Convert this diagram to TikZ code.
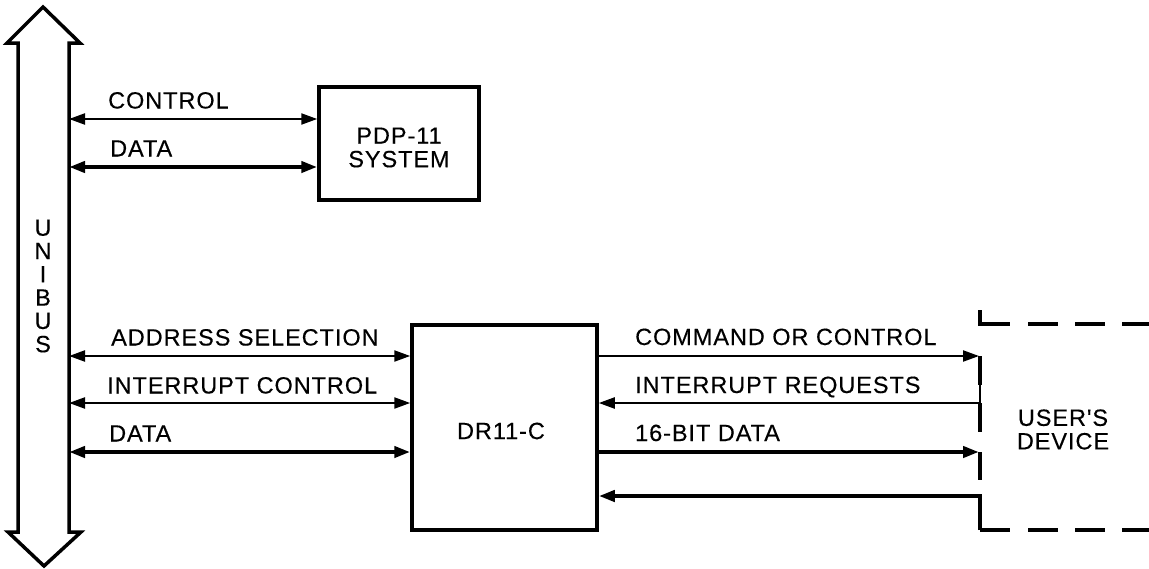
\documentclass[tikz,border=0pt]{standalone}
\usepackage{fontspec}
\newfontfamily\lbl{Liberation Sans}[LetterSpace=4, FakeBold=0.3]
\usetikzlibrary{arrows.meta}
\tikzset{
  sig/.style={line width=2.2pt},
  bus/.style={line width=4pt},
  blk/.style={draw, line width=3.5pt, inner sep=0pt},
  txt/.style={inner sep=0pt, font=\lbl\fontsize{23.5}{23.5}\selectfont},
  ctxt/.style={txt, align=center},
  tri/.style={arrows={Triangle[length=16pt,width=11pt]-Triangle[length=16pt,width=11pt]}},
  trie/.style={arrows={-Triangle[length=16pt,width=11pt]}},
  dsh/.style={line width=3.5pt, dash pattern=on 30pt off 17pt},
}
\begin{document}
\begin{tikzpicture}[x=1pt,y=-1pt]
\useasboundingbox (0,0) rectangle (1149,568);
% UNIBUS double arrow
\draw[line width=3.5pt, line join=miter] (43,7) -- (80,43) -- (69,43) -- (69,532) -- (81,532) -- (44,566)
  -- (8,532) -- (18,532) -- (18,43) -- (7,43) -- cycle;
\node[ctxt, font=\lbl\fontsize{23.5}{23.3}\selectfont] (unibus) at (43,286) {U\\N\\I\\B\\U\\S};
% unibus tap points
\coordinate (ub1) at (69,119);
\coordinate (ub2) at (69,167);
\coordinate (ub3) at (69,356);
\coordinate (ub4) at (69,403);
\coordinate (ub5) at (69,452);
% blocks
\node[blk, minimum width=160pt, minimum height=113pt] (pdp) at (399,143.5) {};
\node[ctxt] (pdptxt) at (399,147.5) {PDP-11\\SYSTEM};
\node[blk, minimum width=185pt, minimum height=205pt] (dr) at (504.5,427.5) {};
\node[txt] (drtxt) at (501,431) {DR11-C};
% user's device edge points
\coordinate (ud1) at (980,356);
\coordinate (ud2) at (980,403);
\coordinate (ud3) at (980,452);
\coordinate (ud4) at (980,496);
\coordinate (udtop) at (980,324);
\coordinate (udbot) at (980,530);
\node[ctxt] (user) at (1063,429.5) {USER'S\\DEVICE};
% top connectors
\draw[sig, tri] (ub1) -- (pdp.west |- ub1);
\draw[bus, tri] (ub2) -- (pdp.west |- ub2);
\node[txt, anchor=base west] (l1) at (108,108.5) {CONTROL};
\node[txt, anchor=base west] (l2) at (110,156.5) {DATA};
% left connectors to DR11-C
\draw[sig, tri] (ub3) -- (dr.west |- ub3);
\draw[sig, tri] (ub4) -- (dr.west |- ub4);
\draw[bus, tri] (ub5) -- (dr.west |- ub5);
\node[txt, anchor=base west] (l3) at (111,345.5) {ADDRESS SELECTION};
\node[txt, anchor=base west] (l4) at (107,393.5) {INTERRUPT CONTROL};
\node[txt, anchor=base west] (l5) at (109,441.5) {DATA};
% right connectors
\draw[sig, trie] (dr.east |- ud1) -- ([xshift=-1pt]ud1);
\draw[line width=3.5pt] (ud1) -- ++(0,29);
\draw[sig, trie] ([yshift=29pt]ud2) -- (ud2) -- (dr.east |- ud2);
\draw[line width=3.5pt] (ud2) -- ++(0,29);
\draw[bus, trie] (dr.east |- ud3) -- ([xshift=-1pt]ud3);
\draw[line width=3.5pt] (ud3) -- ++(0,28);
\draw[bus, trie, line join=miter] (udbot) -- (ud4) -- (dr.east |- ud4);
\node[txt, anchor=base west] (r1) at (635,345) {COMMAND OR CONTROL};
\node[txt, anchor=base west] (r2) at (635,393) {INTERRUPT REQUESTS};
\node[txt, anchor=base west] (r3) at (635,441) {16-BIT DATA};
% dashed user's device outline
\draw[line width=3.5pt, line join=miter] ([yshift=14pt]udtop) -- (udtop) -- ++(30,0);
\draw[dsh] ([xshift=48pt]udtop) -- ++(140,0);
\draw[line width=3.5pt, line join=miter] (udbot) -- ++(30,0);
\draw[dsh] ([xshift=48pt]udbot) -- ++(140,0);
\end{tikzpicture}
\end{document}
